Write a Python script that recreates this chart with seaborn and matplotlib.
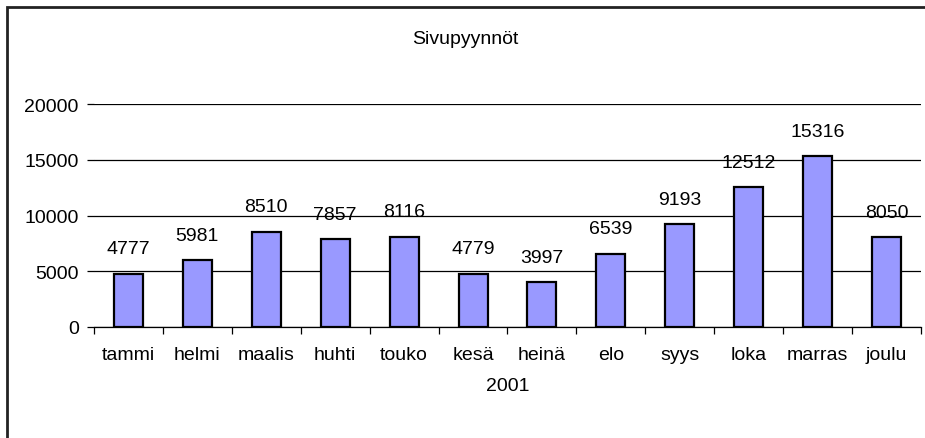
import seaborn as sns
import pandas as pd
import matplotlib.pyplot as plt
from matplotlib.patches import Rectangle

# data
months = ['tammi', 'helmi', 'maalis', 'huhti', 'touko', 'kesä',
          'heinä', 'elo', 'syys', 'loka', 'marras', 'joulu']
requests = [4777, 5981, 8510, 7857, 8116, 4779, 3997, 6539, 9193, 12512, 15316, 8050]
yticks = [0, 5000, 10000, 15000, 20000]

df = pd.DataFrame({'month': months, 'requests': requests})

sns.set_style('white', {'text.color': 'black', 'axes.labelcolor': 'black',
                        'xtick.color': 'black', 'ytick.color': 'black'})
plt.rcParams['font.family'] = ['Liberation Sans', 'DejaVu Sans']
plt.rcParams['font.size'] = 14

fig = plt.figure(figsize=(9.25, 4.39), dpi=100)
ax = fig.add_axes([94 / 925, 1 - 328 / 439, (921 - 94) / 925, (328 - 105) / 439])

sns.barplot(x='month', y='requests', data=df, color='#9999FF', saturation=1,
            width=0.42, edgecolor='black', linewidth=1.6, ax=ax, zorder=3)
ax.bar_label(ax.containers[0], padding=12, fontsize=14, color='black', zorder=4)

ax.set_ylim(0, 20000)
ax.set_xlim(-0.5, len(months) - 0.5)
ax.set_yticks(yticks)
ax.yaxis.grid(True, color='black', lw=0.9, zorder=0)
ax.tick_params(axis='y', left=True, length=5, width=0.9, color='black', pad=6)
ax.tick_params(axis='x', which='major', bottom=True, length=0, pad=14)
ax.set_xticks([i - 0.5 for i in range(len(months) + 1)], minor=True)
ax.tick_params(axis='x', which='minor', bottom=True, length=5, width=0.9, color='black')

sns.despine(ax=ax, left=True, top=True, right=True)
ax.spines['bottom'].set_color('black')
ax.spines['bottom'].set_linewidth(0.9)

ax.set_xlabel('2001', fontsize=14, labelpad=10, color='black')
ax.set_ylabel('')
fig.text(465 / 925, 1 - 40 / 439, 'Sivupyynnöt', ha='center', va='center',
         fontsize=14, color='black')

# outer chart border (right and bottom edges fall outside the image)
fig.patches.append(Rectangle((7 / 925, -0.05), 1.0, 1 - 8 / 439 + 0.05,
                             transform=fig.transFigure, fill=False,
                             edgecolor='#222222', lw=2))

fig.savefig('out.png', dpi=100)
